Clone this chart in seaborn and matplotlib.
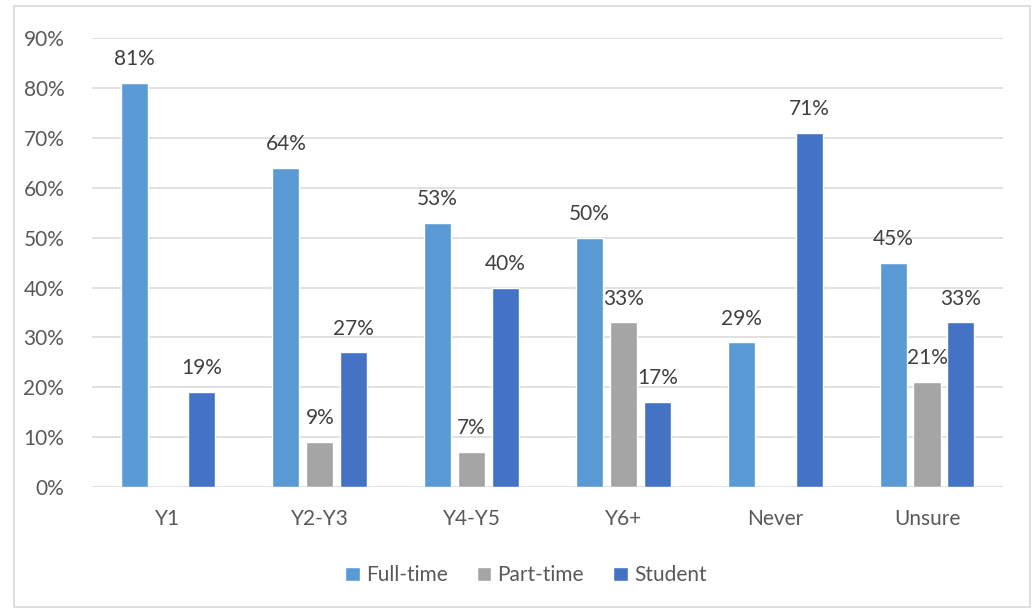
import matplotlib
matplotlib.use("Agg")
import matplotlib.pyplot as plt
from matplotlib.patches import Rectangle
import seaborn as sns
import pandas as pd

# Survey shares (%) by timing category and study mode
categories = ["Y1", "Y2-Y3", "Y4-Y5", "Y6+", "Never", "Unsure"]
full_time = [81, 64, 53, 50, 29, 45]
part_time = [0, 9, 7, 33, 0, 21]
student = [19, 27, 40, 17, 71, 33]
series_names = ["Full-time", "Part-time", "Student"]
colors = ["#5B9BD5", "#A5A5A5", "#4472C4"]
y_ticks = [0, 10, 20, 30, 40, 50, 60, 70, 80, 90]

rows = []
for name, vals in zip(series_names, [full_time, part_time, student]):
    for cat, v in zip(categories, vals):
        rows.append({"category": cat, "series": name, "value": v})
df = pd.DataFrame(rows)

sns.set_theme(style="white")
plt.rcParams["font.family"] = ["Lato", "DejaVu Sans"]

fig = plt.figure(figsize=(10.35, 6.12), dpi=100)
ax = fig.add_axes([0.089, 0.204, 0.880, 0.734])

sns.barplot(data=df, x="category", y="value", hue="series",
            order=categories, hue_order=series_names, palette=colors,
            width=0.67, gap=0.2, saturation=1, ax=ax, legend=True)

for cont in ax.containers:
    labels = [f"{b.get_height():.0f}%" if b.get_height() > 0 else "" for b in cont]
    ax.bar_label(cont, labels=labels, padding=10, fontsize=15, color="#404040")

ax.set_ylim(0, 90)
ax.set_yticks(y_ticks)
ax.set_yticklabels([f"{t}%" for t in y_ticks])
ax.yaxis.grid(True, color="#D9D9D9", linewidth=1.1)
ax.set_axisbelow(True)
for s in ax.spines.values():
    s.set_visible(False)
ax.tick_params(axis="both", length=0, labelsize=15, labelcolor="#595959")
ax.tick_params(axis="y", pad=20)
ax.tick_params(axis="x", pad=16)
ax.set_xlabel("")
ax.set_ylabel("")

leg = ax.legend(loc="center", bbox_to_anchor=(0.508, 0.06), bbox_transform=fig.transFigure,
                ncol=3, frameon=False, fontsize=15, handlelength=0.7, handleheight=0.7,
                handletextpad=0.3, columnspacing=1.4)
for t in leg.get_texts():
    t.set_color("#595959")

fig.patches.append(Rectangle((0.014, 0.008), 0.981, 0.982, transform=fig.transFigure,
                             fill=False, edgecolor="#D9D9D9", linewidth=1.2))

fig.savefig("out.png", dpi=100)
